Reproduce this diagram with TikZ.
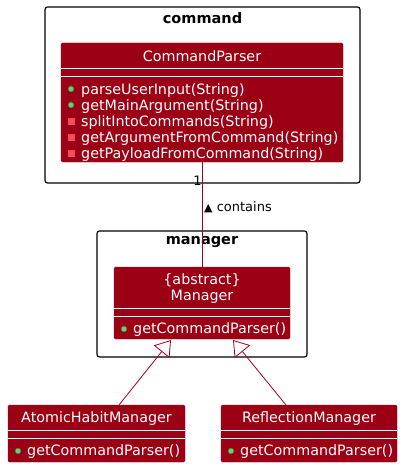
\documentclass[tikz,border=0pt]{standalone}
\usepackage{fontspec}
\setmainfont{DejaVu Sans}
\usetikzlibrary{arrows.meta}
\definecolor{clsfill}{RGB}{155,0,20}
\definecolor{relcol}{RGB}{160,0,30}
\definecolor{pubfill}{RGB}{132,190,132}
\definecolor{pubdraw}{RGB}{3,128,3}
\definecolor{privfill}{RGB}{242,77,92}
\tikzset{
  pkg/.style={draw=black, line width=1.1pt, rounded corners=2.5pt, fill=white},
  pkgtitle/.style={font=\fontsize{14.5}{17}\selectfont\bfseries, text=black, yshift=-1pt},
  clsbox/.style={fill=clsfill, draw=clsfill, rounded corners=1.5pt},
  sep/.style={draw=white, line width=1pt},
  cname/.style={font=\fontsize{14.3}{17}\selectfont, text=white, align=center, inner sep=0pt, yshift=-1.2pt},
  meth/.style={font=\fontsize{14.3}{17}\selectfont, text=white, anchor=west, inner sep=0pt, yshift=-1.2pt},
  pubdot/.style={circle, fill=pubfill, draw=pubdraw, line width=0.4pt, minimum size=6pt, inner sep=0pt},
  privsq/.style={rectangle, fill=privfill, draw=privfill, minimum size=6pt, inner sep=0pt},
  rel/.style={draw=relcol, line width=0.8pt},
  inh/.style={rel, -{Triangle[open, length=15pt, width=20pt, fill=white]}},
  lbl/.style={font=\fontsize{13}{15}\selectfont, text=black, inner sep=0pt},
}
\begin{document}
\begin{tikzpicture}[x=1pt,y=-1pt]
\useasboundingbox (0,0) rectangle (404,468);
% packages
\draw[pkg] (45,7) rectangle (360,183);
\node[pkgtitle] (pkgcmd) at (202.5,17.5) {command};
\draw[pkg] (97,231) rectangle (307,357);
\node[pkgtitle] (pkgmgr) at (202,241.5) {manager};

% CommandParser
\node[clsbox, minimum width=282pt, minimum height=119pt, inner sep=0pt] (cp) at (202,102.5) {};
\node[cname] (cpn) at (202,55) {CommandParser};
\draw[sep] (61,68.5) -- (343,68.5);
\draw[sep] (61,76.5) -- (343,76.5);
\node[pubdot] (cpd1) at (71,89) {};
\node[meth] (cpm1) at (81,89) {parseUserInput(String)};
\node[pubdot] (cpd2) at (71,105) {};
\node[meth] (cpm2) at (81,105) {getMainArgument(String)};
\node[privsq] (cpd3) at (71,121.5) {};
\node[meth] (cpm3) at (81,121) {splitIntoCommands(String)};
\node[privsq] (cpd4) at (71,137.5) {};
\node[meth] (cpm4) at (81,137) {getArgumentFromCommand(String)};
\node[privsq] (cpd5) at (71,153.5) {};
\node[meth] (cpm5) at (81,153) {getPayloadFromCommand(String)};

% Manager
\node[clsbox, minimum width=176pt, minimum height=72pt, inner sep=0pt] (mgr) at (202,303) {};
\node[cname] (mgrn) at (202,287) {\{abstract\}\\[-1pt]Manager};
\draw[sep] (114,308.5) -- (290,308.5);
\draw[sep] (114,316.5) -- (290,316.5);
\node[pubdot] (mgrd) at (124,329) {};
\node[meth] (mgrm) at (133,328) {getCommandParser()};

% AtomicHabitManager
\node[clsbox, minimum width=177pt, minimum height=57pt, inner sep=0pt] (ahm) at (96.5,433.5) {};
\node[cname] (ahmn) at (96.5,417) {AtomicHabitManager};
\draw[sep] (8,430.5) -- (185,430.5);
\draw[sep] (8,438.5) -- (185,438.5);
\node[pubdot] (ahmd) at (18,451) {};
\node[meth] (ahmm) at (27,450) {getCommandParser()};

% ReflectionManager
\node[clsbox, minimum width=176pt, minimum height=57pt, inner sep=0pt] (rm) at (309,433.5) {};
\node[cname] (rmn) at (309,417) {ReflectionManager};
\draw[sep] (221,430.5) -- (397,430.5);
\draw[sep] (221,438.5) -- (397,438.5);
\node[pubdot] (rmd) at (231,451) {};
\node[meth] (rmm) at (240,450) {getCommandParser()};

% association
\draw[rel] (cp.south) -- (mgr.north);
\node[lbl] (one) at (197.5,181) {1};
\node[lbl, anchor=west] (cont) at (204,207) {\fontsize{11}{12}\selectfont▲\fontsize{13}{15}\selectfont\ contains};

% inheritance
\coordinate (ahmtop) at (119,405);
\coordinate (mgrb1) at (171,340);
\coordinate (rmtop) at (286,405);
\coordinate (mgrb2) at (233,340);
\draw[inh] (ahmtop) -- (mgrb1);
\draw[inh] (rmtop) -- (mgrb2);
\end{tikzpicture}
\end{document}
